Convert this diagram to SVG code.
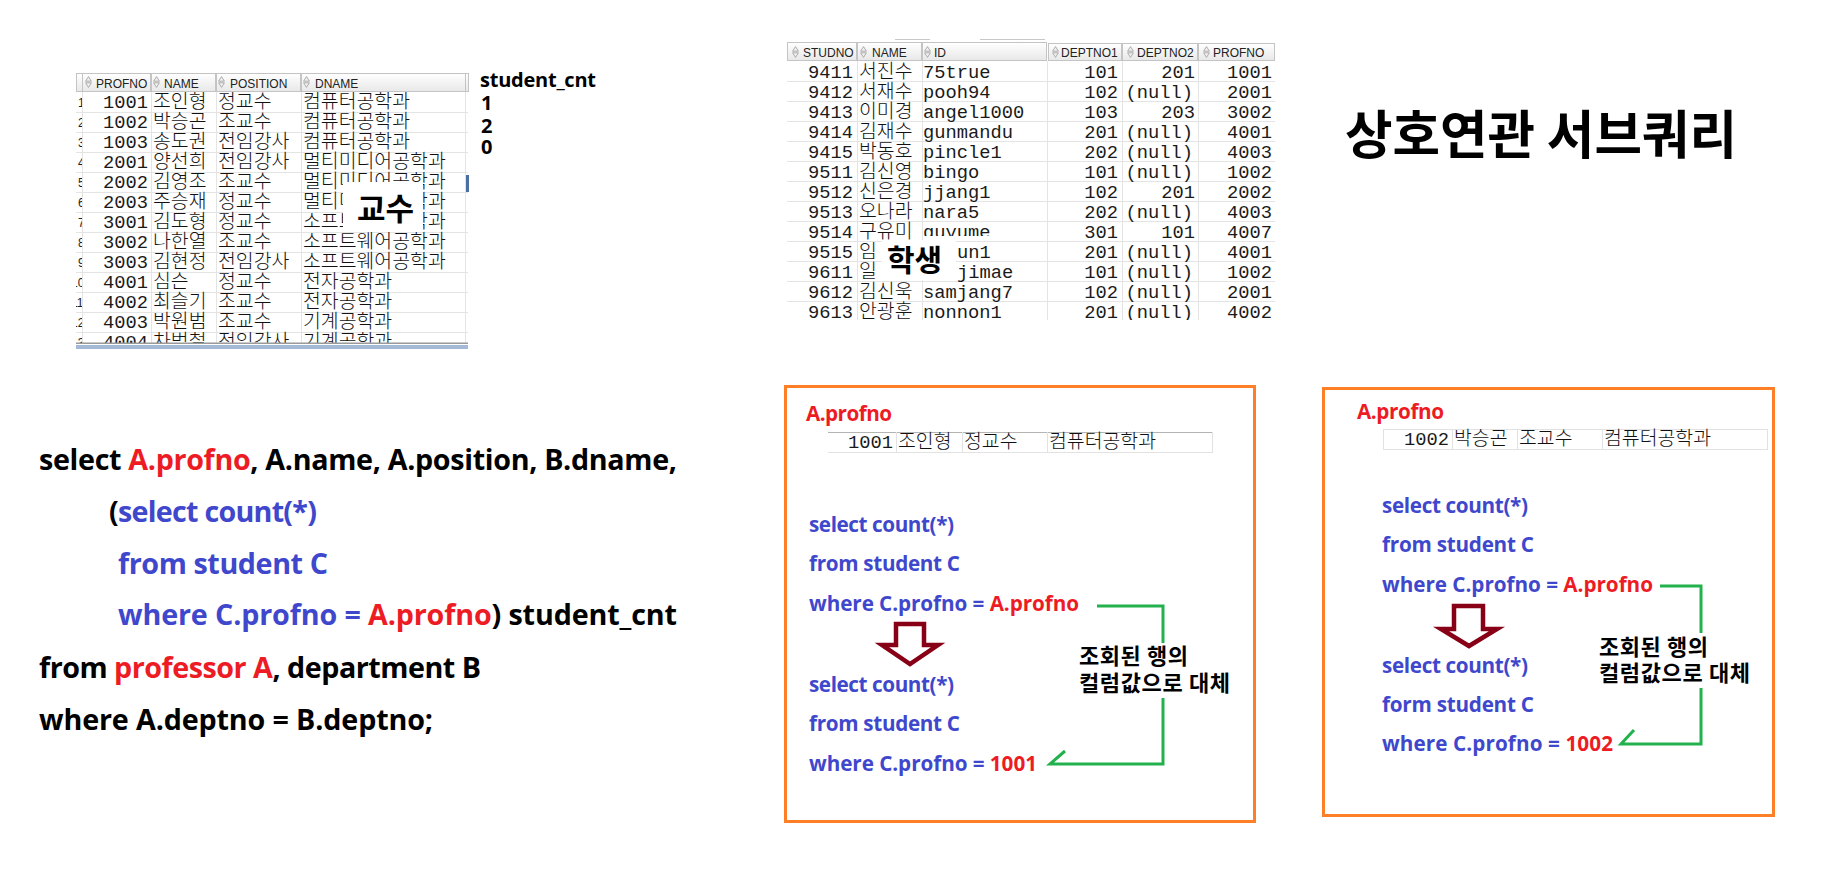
<svg xmlns="http://www.w3.org/2000/svg" width="1840" height="869" viewBox="0 0 1840 869">
<style>
.kr{font-family:"Noto Sans CJK KR","Noto Sans",sans-serif}
.code{font-family:"Open Sans","Noto Sans",sans-serif;font-weight:bold;white-space:pre}
.r{fill:#ed1c24}
.b{fill:#3f48cc}
.k{fill:#000}
.num{font-family:"Liberation Mono","DejaVu Sans Mono",monospace;font-size:18.75px;fill:#1a1a1a;white-space:pre}
.cell{font-family:"Noto Sans CJK KR",sans-serif;font-weight:300;font-size:19.4px;fill:#111}
.hdr{font-family:"Liberation Sans",Arial,sans-serif;font-size:12px;fill:#222}
.grid{stroke:#e4e4e4;stroke-width:1;fill:none}
.hcell{fill:url(#hg);stroke:#c4c4c4;stroke-width:1}
.green{fill:none;stroke:#22b14c;stroke-width:3}
.darr{fill:#fff;stroke:#880015;stroke-width:4.5;stroke-linejoin:miter}
.obox{fill:none;stroke:#ff7f27;stroke-width:3}
</style>
<defs>
<linearGradient id="hg" x1="0" y1="0" x2="0" y2="1"><stop offset="0" stop-color="#ffffff"/><stop offset="1" stop-color="#e8e8e8"/></linearGradient>
<symbol id="sort" viewBox="0 0 7 12"><path d="M3.5,0.6 L6.4,5.2 H0.6 Z M3.5,11.4 L6.4,6.8 H0.6 Z" fill="#f2f2f2" stroke="#9a9a9a" stroke-width="0.8"/></symbol>
<clipPath id="pclip"><rect x="76" y="92" width="392" height="251"/></clipPath>
<clipPath id="gclip"><rect x="76" y="92" width="6" height="251"/></clipPath>
<clipPath id="sclip"><rect x="787" y="61" width="490" height="259"/></clipPath>
</defs>
<rect width="1840" height="869" fill="#fff"/>

<!-- Professor table -->
<g id="professor-table">
<rect class="hcell" x="76.5" y="73.5" width="6" height="18"/>
<rect class="hcell" x="82.5" y="73.5" width="68" height="18"/>
<rect class="hcell" x="151.5" y="73.5" width="64" height="18"/>
<rect class="hcell" x="216.5" y="73.5" width="84" height="18"/>
<rect class="hcell" x="301.5" y="73.5" width="164" height="18"/>
<rect class="hcell" x="465.5" y="73.5" width="3" height="18"/>
<use href="#sort" x="85" y="76" width="7" height="12"/><text class="hdr" x="96" y="88">PROFNO</text>
<use href="#sort" x="153" y="76" width="7" height="12"/><text class="hdr" x="164" y="88">NAME</text>
<use href="#sort" x="218" y="76" width="7" height="12"/><text class="hdr" x="230" y="88">POSITION</text>
<use href="#sort" x="303" y="76" width="7" height="12"/><text class="hdr" x="315" y="88">DNAME</text>
<g class="grid">
<path d="M76,112.5H468M76,132.5H468M76,152.5H468M76,172.5H468M76,192.5H468M76,212.5H468M76,232.5H468M76,252.5H468M76,272.5H468M76,292.5H468M76,312.5H468M76,332.5H468"/>
<path d="M82.5,92V343M151.5,92V343M216.5,92V343M301.5,92V343M465.5,92V343"/>
</g>
<g clip-path="url(#gclip)" class="hdr" text-anchor="start">
<text x="78" y="107">1</text><text x="78" y="127">2</text><text x="78" y="147">3</text><text x="78" y="167">4</text><text x="78" y="187">5</text><text x="78" y="207">6</text><text x="78" y="227">7</text><text x="78" y="247">8</text><text x="78" y="267">9</text><text x="71" y="287">10</text><text x="71" y="307">11</text><text x="71" y="327">12</text><text x="71" y="347">13</text>
</g>
<g clip-path="url(#pclip)">
<g class="num" text-anchor="end">
<text x="148" y="108">1001</text><text x="148" y="128">1002</text><text x="148" y="148">1003</text><text x="148" y="168">2001</text><text x="148" y="188">2002</text><text x="148" y="208">2003</text><text x="148" y="228">3001</text><text x="148" y="248">3002</text><text x="148" y="268">3003</text><text x="148" y="288">4001</text><text x="148" y="308">4002</text><text x="148" y="328">4003</text><text x="148" y="348">4004</text>
</g>
<g class="cell">
<text x="153" y="108">조인형</text><text x="218" y="108">정교수</text><text x="303" y="108">컴퓨터공학과</text>
<text x="153" y="128">박승곤</text><text x="218" y="128">조교수</text><text x="303" y="128">컴퓨터공학과</text>
<text x="153" y="148">송도권</text><text x="218" y="148">전임강사</text><text x="303" y="148">컴퓨터공학과</text>
<text x="153" y="168">양선희</text><text x="218" y="168">전임강사</text><text x="303" y="168">멀티미디어공학과</text>
<text x="153" y="188">김영조</text><text x="218" y="188">조교수</text><text x="303" y="188">멀티미디어공학과</text>
<text x="153" y="208">주승재</text><text x="218" y="208">정교수</text><text x="303" y="208">멀티미디어공학과</text>
<text x="153" y="228">김도형</text><text x="218" y="228">정교수</text><text x="303" y="228">소프트웨어공학과</text>
<text x="153" y="248">나한열</text><text x="218" y="248">조교수</text><text x="303" y="248">소프트웨어공학과</text>
<text x="153" y="268">김현정</text><text x="218" y="268">전임강사</text><text x="303" y="268">소프트웨어공학과</text>
<text x="153" y="288">심슨</text><text x="218" y="288">정교수</text><text x="303" y="288">전자공학과</text>
<text x="153" y="308">최슬기</text><text x="218" y="308">조교수</text><text x="303" y="308">전자공학과</text>
<text x="153" y="328">박원범</text><text x="218" y="328">조교수</text><text x="303" y="328">기계공학과</text>
<text x="153" y="348">차범철</text><text x="218" y="348">전임강사</text><text x="303" y="348">기계공학과</text>
</g>
</g>
<rect x="76" y="342.5" width="392" height="1.5" fill="#9a9a9a"/>
<rect x="76" y="345" width="392" height="4" fill="#a3b9d6"/>
<rect x="466" y="175" width="3" height="17" fill="#4a6fa5"/>
<rect x="343" y="182" width="80" height="50" fill="#fff"/>
<text class="kr" x="357" y="220" font-size="31" font-weight="bold" fill="#000">교수</text>
</g>

<!-- student_cnt column -->
<g id="student-cnt" class="code" font-size="20" fill="#000">
<text x="480" y="87" textLength="116">student_cnt</text>
<text x="481" y="110">1</text>
<text x="481" y="133">2</text>
<text x="481" y="154">0</text>
</g>

<!-- Student table -->
<g id="student-table">
<path d="M895,39.5H930M980,39.5H1045" stroke="#c8c8c8" stroke-width="1"/>
<rect class="hcell" x="787.5" y="42.5" width="69" height="18"/>
<rect class="hcell" x="857.5" y="42.5" width="64" height="18"/>
<rect class="hcell" x="922.5" y="42.5" width="124" height="18"/>
<rect class="hcell" x="1048.5" y="43.5" width="73" height="17"/>
<rect class="hcell" x="1122.5" y="43.5" width="75" height="17"/>
<rect class="hcell" x="1198.5" y="43.5" width="76" height="17"/>
<use href="#sort" x="792" y="46" width="7" height="12"/><text class="hdr" x="803" y="57">STUDNO</text>
<use href="#sort" x="860" y="46" width="7" height="12"/><text class="hdr" x="872" y="57">NAME</text>
<use href="#sort" x="924" y="46" width="7" height="12"/><text class="hdr" x="934" y="57">ID</text>
<use href="#sort" x="1052" y="46" width="7" height="12"/><text class="hdr" x="1061" y="57">DEPTNO1</text>
<use href="#sort" x="1127" y="46" width="7" height="12"/><text class="hdr" x="1137" y="57">DEPTNO2</text>
<use href="#sort" x="1203" y="46" width="7" height="12"/><text class="hdr" x="1213" y="57">PROFNO</text>
<g class="grid">
<path d="M787,81.5H1275M787,101.5H1275M787,121.5H1275M787,141.5H1275M787,161.5H1275M787,181.5H1275M787,201.5H1275M787,221.5H1275M787,241.5H1275M787,261.5H1275M787,281.5H1275M787,301.5H1275"/>
<path d="M857.5,61V320M922.5,61V320M1047.5,61V320M1122.5,61V320M1198.5,61V320"/>
</g>
<g clip-path="url(#sclip)">
<g class="num" text-anchor="end">
<text x="853" y="78">9411</text><text x="853" y="98">9412</text><text x="853" y="118">9413</text><text x="853" y="138">9414</text><text x="853" y="158">9415</text><text x="853" y="178">9511</text><text x="853" y="198">9512</text><text x="853" y="218">9513</text><text x="853" y="238">9514</text><text x="853" y="258">9515</text><text x="853" y="278">9611</text><text x="853" y="298">9612</text><text x="853" y="318">9613</text>
<text x="1118" y="78">101</text><text x="1118" y="98">102</text><text x="1118" y="118">103</text><text x="1118" y="138">201</text><text x="1118" y="158">202</text><text x="1118" y="178">101</text><text x="1118" y="198">102</text><text x="1118" y="218">202</text><text x="1118" y="238">301</text><text x="1118" y="258">201</text><text x="1118" y="278">101</text><text x="1118" y="298">102</text><text x="1118" y="318">201</text>
<text x="1195" y="78">201</text><text x="1193" y="98">(null)</text><text x="1195" y="118">203</text><text x="1193" y="138">(null)</text><text x="1193" y="158">(null)</text><text x="1193" y="178">(null)</text><text x="1195" y="198">201</text><text x="1193" y="218">(null)</text><text x="1195" y="238">101</text><text x="1193" y="258">(null)</text><text x="1193" y="278">(null)</text><text x="1193" y="298">(null)</text><text x="1193" y="318">(null)</text>
<text x="1272" y="78">1001</text><text x="1272" y="98">2001</text><text x="1272" y="118">3002</text><text x="1272" y="138">4001</text><text x="1272" y="158">4003</text><text x="1272" y="178">1002</text><text x="1272" y="198">2002</text><text x="1272" y="218">4003</text><text x="1272" y="238">4007</text><text x="1272" y="258">4001</text><text x="1272" y="278">1002</text><text x="1272" y="298">2001</text><text x="1272" y="318">4002</text>
</g>
<g class="num">
<text x="923" y="78">75true</text><text x="923" y="98">pooh94</text><text x="923" y="118">angel1000</text><text x="923" y="138">gunmandu</text><text x="923" y="158">pincle1</text><text x="923" y="178">bingo</text><text x="923" y="198">jjang1</text><text x="923" y="218">nara5</text><text x="923" y="238">guyume</text><text x="957" y="258">un1</text><text x="957" y="278">jimae</text><text x="923" y="298">samjang7</text><text x="923" y="318">nonnon1</text>
</g>
<g class="cell">
<text x="859" y="78">서진수</text><text x="859" y="98">서재수</text><text x="859" y="118">이미경</text><text x="859" y="138">김재수</text><text x="859" y="158">박동호</text><text x="859" y="178">김신영</text><text x="859" y="198">신은경</text><text x="859" y="218">오나라</text><text x="859" y="238">구유미</text><text x="859" y="258">임</text><text x="859" y="278">일</text><text x="859" y="298">김신욱</text><text x="859" y="318">안광훈</text>
</g>
</g>
<rect x="923" y="236" width="72" height="5" fill="#fff"/>
<rect x="882" y="240" width="74" height="40" fill="#fff"/>
<text class="kr" x="887" y="271" font-size="30" font-weight="bold" fill="#000">학생</text>
</g>

<!-- Title -->
<g id="title">
<text class="kr" x="1345" y="154" font-size="52" font-weight="bold" fill="#000" textLength="392" lengthAdjust="spacingAndGlyphs">상호연관 서브쿼리</text>
</g>

<!-- Main SQL -->
<g id="sql-main" class="code" font-size="28.7">
<text x="39" y="470" textLength="638"><tspan class="k">select </tspan><tspan class="r">A.profno</tspan><tspan class="k">, A.name, A.position, B.dname,</tspan></text>
<text x="109" y="522" textLength="208"><tspan class="k">(</tspan><tspan class="b">select count(*)</tspan></text>
<text x="118" y="574" class="b" textLength="210">from student C</text>
<text x="118" y="625" textLength="559"><tspan class="b">where C.profno = </tspan><tspan class="r">A.profno</tspan><tspan class="k">) student_cnt</tspan></text>
<text x="39" y="678" textLength="442"><tspan class="k">from </tspan><tspan class="r">professor A</tspan><tspan class="k">, department B</tspan></text>
<text x="39" y="730" class="k" textLength="394">where A.deptno = B.deptno;</text>
</g>

<!-- Box 1 -->
<g id="box-1001">
<rect class="obox" x="785.5" y="386.5" width="469" height="435"/>
<text class="code r" x="806" y="421" font-size="20.7" textLength="86">A.profno</text>
<path d="M828,432.5H1213" stroke="#b4b4b4" stroke-width="1"/>
<path d="M828,452.5H1213" stroke="#e2e2e2" stroke-width="1"/>
<path d="M896.5,432V452M962.5,432V452M1047.5,432V452M1212.5,432V452" stroke="#e2e2e2" stroke-width="1"/>
<text class="num" x="893" y="448" text-anchor="end">1001</text>
<text class="cell" x="898" y="448">조인형</text>
<text class="cell" x="964" y="448">정교수</text>
<text class="cell" x="1049" y="448">컴퓨터공학과</text>
<g class="code" font-size="20.7">
<text x="809" y="532" class="b" textLength="145">select count(*)</text>
<text x="809" y="571" class="b" textLength="151">from student C</text>
<text x="809" y="611" textLength="270"><tspan class="b">where C.profno = </tspan><tspan class="r">A.profno</tspan></text>
<text x="809" y="692" class="b" textLength="145">select count(*)</text>
<text x="809" y="731" class="b" textLength="151">from student C</text>
<text x="809" y="771" textLength="228"><tspan class="b">where C.profno = </tspan><tspan class="r">1001</tspan></text>
</g>
<text class="kr" font-size="22" font-weight="bold" fill="#000" x="1079" y="664" textLength="109">조회된 행의</text>
<text class="kr" font-size="22" font-weight="bold" fill="#000" x="1079" y="691" textLength="151">컬럼값으로 대체</text>
</g>

<!-- Box 2 -->
<g id="box-1002">
<rect class="obox" x="1323.5" y="388.5" width="450" height="427"/>
<text class="code r" x="1357" y="419" font-size="20.7" textLength="87">A.profno</text>
<path d="M1383,429.5H1768" stroke="#e2e2e2" stroke-width="1"/>
<path d="M1383,449.5H1768" stroke="#e2e2e2" stroke-width="1"/>
<path d="M1383.5,429V449M1452.5,429V449M1517.5,429V449M1602.5,429V449M1767.5,429V449" stroke="#e2e2e2" stroke-width="1"/>
<text class="num" x="1449" y="445" text-anchor="end">1002</text>
<text class="cell" x="1454" y="445">박승곤</text>
<text class="cell" x="1519" y="445">조교수</text>
<text class="cell" x="1604" y="445">컴퓨터공학과</text>
<g class="code" font-size="20.7">
<text x="1382" y="513" class="b" textLength="146">select count(*)</text>
<text x="1382" y="552" class="b" textLength="152">from student C</text>
<text x="1382" y="592" textLength="271"><tspan class="b">where C.profno = </tspan><tspan class="r">A.profno</tspan></text>
<text x="1382" y="673" class="b" textLength="146">select count(*)</text>
<text x="1382" y="712" class="b" textLength="152">form student C</text>
<text x="1382" y="751" textLength="231"><tspan class="b">where C.profno = </tspan><tspan class="r">1002</tspan></text>
</g>
<text class="kr" font-size="22" font-weight="bold" fill="#000" x="1599" y="655" textLength="109">조회된 행의</text>
<text class="kr" font-size="22" font-weight="bold" fill="#000" x="1599" y="681" textLength="151">컬럼값으로 대체</text>
</g>

<!-- Connectors -->
<g id="connectors">
<path class="darr" d="M896,624H924V645H938L910,664L882,645H896Z"/>
<path class="darr" d="M1454,606H1483V629H1497L1469,646L1441,629H1454Z"/>
<path class="green" d="M1097,606H1163V643M1163,698V764H1050L1065,751"/>
<path class="green" d="M1660,586H1701V633M1701,688V744H1621L1634,730"/>
</g>
</svg>
